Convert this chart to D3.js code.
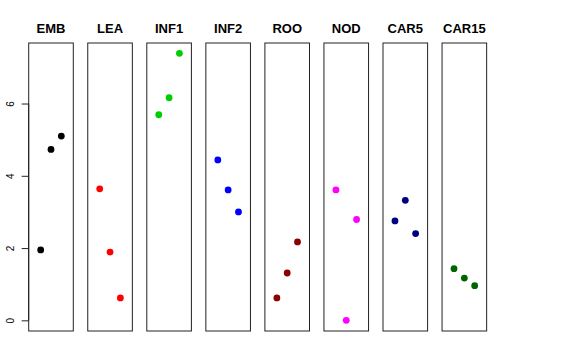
<!DOCTYPE html>
<html><head><meta charset="utf-8">
<script src="https://cdn.jsdelivr.net/npm/d3@7"></script>
<style>body{margin:0;background:#fff}svg{display:block}</style>
</head><body>
<script>
const categories = ["EMB","LEA","INF1","INF2","ROO","NOD","CAR5","CAR15"];
const colors = ["#000000","#FF0000","#00CD00","#0000FF","#8B0000","#FF00FF","#000080","#006400"];
const positions = [1,2,3];
const values = [
  [1.95,4.73,5.10],
  [3.64,1.89,0.62],
  [5.69,6.16,7.39],
  [4.44,3.61,3.00],
  [0.62,1.31,2.17],
  [3.61,0.00,2.79],
  [2.75,3.32,2.40],
  [1.43,1.17,0.96]
];
const yTicks = [0,2,4,6];

(function(){
const W=576,H=360;
const svg=d3.select("body").append("svg").attr("width",W).attr("height",H);
const pTop=43, pBottom=331, pw=44.6, left0=28.7, step=59.05;
const y=d3.scaleLinear().domain([-0.295,7.675]).range([pBottom,pTop]);
const x=d3.scaleLinear().domain([-0.16,4.16]).range([0,pw]);

categories.forEach((c,i)=>{
  const g=svg.append("g").attr("transform",`translate(${left0+i*step},0)`);
  g.append("rect").attr("x",0).attr("y",pTop).attr("width",pw).attr("height",pBottom-pTop)
    .attr("fill","none").attr("stroke","#222").attr("stroke-width",1);
  g.append("text").attr("x",pw/2).attr("y",33).attr("text-anchor","middle")
    .attr("font-family","Liberation Sans, Arial, sans-serif").attr("font-weight","bold")
    .attr("font-size",13).text(c);
  g.selectAll("circle").data(values[i]).enter().append("circle")
    .attr("cx",(d,j)=>x(positions[j])).attr("cy",d=>y(d)).attr("r",3.4).attr("fill",colors[i]);
});

const ax=d3.axisLeft(y).tickValues(yTicks).tickSize(7).tickPadding(4).tickFormat(d3.format("d"));
const axg=svg.append("g").attr("transform",`translate(${left0},0)`).call(ax);
axg.selectAll(".domain").attr("d",`M0,${y(0)}V${y(6)}`).attr("stroke","#222");
axg.selectAll(".tick line").attr("stroke","#222");
axg.selectAll(".tick text").attr("font-family","Liberation Sans, Arial, sans-serif").attr("font-size",10)
  .attr("fill","#000").attr("transform","rotate(-90)").attr("x",0).attr("y",-18).attr("dy","0.35em")
  .attr("text-anchor","middle");
})();
</script>
</body></html>
